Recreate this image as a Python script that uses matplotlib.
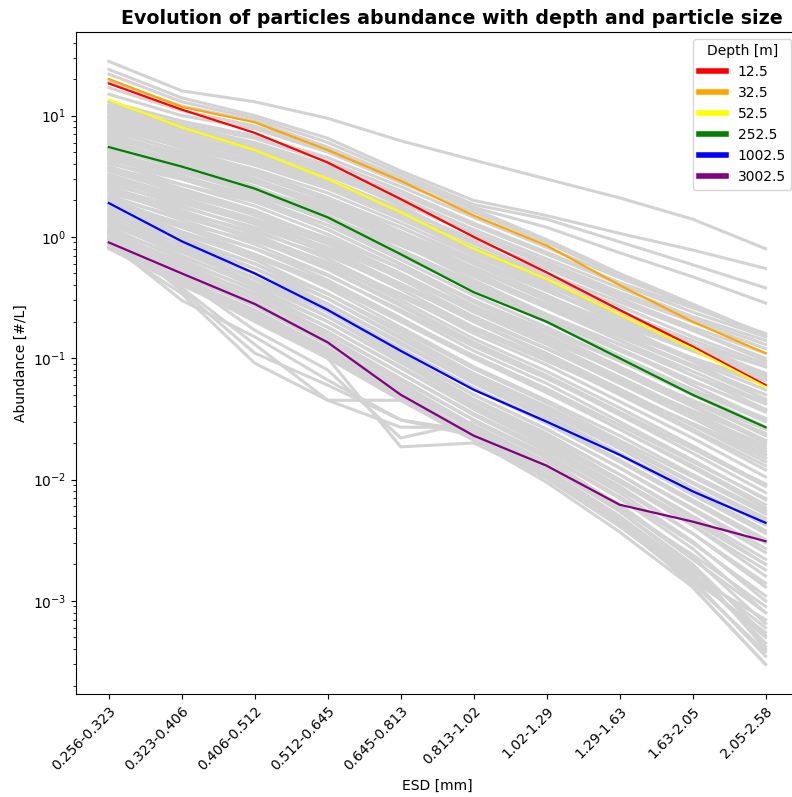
import matplotlib
matplotlib.use("Agg")
import matplotlib.pyplot as plt
from matplotlib.lines import Line2D

size_classes = ["0.256-0.323", "0.323-0.406", "0.406-0.512", "0.512-0.645", "0.645-0.813",
                "0.813-1.02", "1.02-1.29", "1.29-1.63", "1.63-2.05", "2.05-2.58"]

depths = ["12.5", "32.5", "52.5", "252.5", "1002.5", "3002.5"]
depth_colors = ["red", "orange", "yellow", "green", "blue", "purple"]

ab_12_5 = [18.4, 11.2, 7.2, 4.1, 2.05, 1.0, 0.51, 0.25, 0.125, 0.06]
ab_32_5 = [20.0, 11.8, 8.8, 5.2, 2.9, 1.5, 0.85, 0.4, 0.2, 0.11]
ab_52_5 = [13.5, 8.0, 5.2, 3.0, 1.6, 0.8, 0.45, 0.23, 0.12, 0.058]
ab_252_5 = [5.5, 3.8, 2.5, 1.45, 0.72, 0.35, 0.2, 0.1, 0.05, 0.027]
ab_1002_5 = [1.9, 0.92, 0.5, 0.25, 0.115, 0.055, 0.03, 0.016, 0.008, 0.0044]
ab_3002_5 = [0.9, 0.5, 0.28, 0.135, 0.05, 0.023, 0.013, 0.0062, 0.0045, 0.0031]
highlighted = [ab_12_5, ab_32_5, ab_52_5, ab_252_5, ab_1002_5, ab_3002_5]

grey_top = [
    [28, 16, 13, 9.5, 6.2, 4.3, 3.0, 2.1, 1.4, 0.8],
    [24, 14, 10, 6.5, 3.5, 2.0, 1.5, 1.07, 0.78, 0.55],
    [22, 13, 9.5, 6, 3.3, 1.85, 1.4, 0.91, 0.59, 0.38],
    [19, 12, 9, 5.5, 3.1, 1.75, 1.2, 0.74, 0.47, 0.285],
]

grey_upper = [
    [12, 8.5, 6.5, 4.2, 2.4, 1.3, 0.75, 0.42, 0.26, 0.16],
    [11, 7.5, 5.6, 3.7, 2.1, 1.15, 0.66, 0.38, 0.22, 0.14],
    [10.5, 7, 5, 3.2, 1.9, 1.05, 0.6, 0.33, 0.2, 0.12],
    [9.8, 6.8, 4.8, 3.0, 1.7, 0.95, 0.55, 0.31, 0.18, 0.11],
    [9.2, 6.2, 4.5, 2.9, 1.6, 0.88, 0.5, 0.29, 0.17, 0.1],
    [8.6, 5.9, 4.2, 2.7, 1.5, 0.82, 0.47, 0.27, 0.15, 0.09],
    [8.0, 5.5, 3.9, 2.5, 1.4, 0.76, 0.43, 0.24, 0.14, 0.085],
    [7.5, 5.1, 3.6, 2.3, 1.3, 0.7, 0.4, 0.22, 0.13, 0.075],
    [7.0, 4.8, 3.4, 2.1, 1.2, 0.64, 0.36, 0.2, 0.115, 0.068],
    [6.6, 4.5, 3.2, 2.0, 1.1, 0.6, 0.33, 0.18, 0.1, 0.06],
    [6.2, 4.2, 3.0, 1.85, 1.0, 0.55, 0.3, 0.17, 0.095, 0.055],
    [5.8, 4.0, 2.8, 1.7, 0.95, 0.5, 0.28, 0.155, 0.088, 0.05],
    [10, 6.5, 4.4, 2.7, 1.45, 0.72, 0.38, 0.19, 0.095, 0.045],
    [12.5, 8, 5.5, 3.4, 1.8, 0.9, 0.48, 0.25, 0.13, 0.07],
    [5.2, 3.8, 2.9, 1.9, 1.1, 0.62, 0.36, 0.21, 0.13, 0.085],
    [4.6, 3.4, 2.5, 1.65, 0.95, 0.55, 0.32, 0.19, 0.115, 0.075],
    [4.0, 3.0, 2.2, 1.45, 0.85, 0.48, 0.28, 0.16, 0.1, 0.065],
    [11.5, 7.8, 5.8, 3.6, 2.0, 1.05, 0.58, 0.31, 0.17, 0.095],
    [9.5, 6.4, 4.6, 2.85, 1.55, 0.8, 0.44, 0.24, 0.13, 0.072],
    [8.3, 5.7, 4.0, 2.55, 1.42, 0.74, 0.41, 0.22, 0.12, 0.066],
    [6.4, 4.6, 3.3, 2.1, 1.2, 0.66, 0.37, 0.21, 0.12, 0.072],
    [5.4, 3.9, 2.85, 1.8, 1.0, 0.56, 0.31, 0.17, 0.1, 0.06],
    [4.9, 3.5, 2.5, 1.6, 0.88, 0.48, 0.27, 0.15, 0.085, 0.05],
    [4.3, 3.1, 2.2, 1.4, 0.78, 0.42, 0.23, 0.13, 0.072, 0.042],
    [3.7, 2.7, 1.95, 1.25, 0.7, 0.38, 0.21, 0.115, 0.064, 0.037],
    [9.0, 6.0, 4.1, 2.6, 1.45, 0.78, 0.42, 0.23, 0.125, 0.07],
    [10.8, 7.4, 5.3, 3.4, 1.95, 1.08, 0.62, 0.35, 0.21, 0.13],
    [11.8, 8.2, 6.0, 3.9, 2.25, 1.25, 0.72, 0.41, 0.24, 0.15],
    [13, 9.0, 6.8, 4.5, 2.6, 1.45, 0.82, 0.46, 0.27, 0.155],
    [15, 10, 7.8, 5.0, 2.8, 1.6, 0.9, 0.48, 0.27, 0.15],
    [17, 11, 8.2, 5.3, 3.0, 1.7, 0.95, 0.5, 0.28, 0.155],
]

grey_middle = [
    [5.0, 3.4, 2.3, 1.35, 0.7, 0.36, 0.2, 0.105, 0.055, 0.03],
    [4.7, 3.2, 2.1, 1.25, 0.65, 0.33, 0.18, 0.095, 0.05, 0.026],
    [4.4, 3.0, 1.95, 1.15, 0.6, 0.3, 0.165, 0.085, 0.044, 0.023],
    [4.1, 2.7, 1.8, 1.05, 0.55, 0.27, 0.15, 0.077, 0.04, 0.02],
    [3.8, 2.5, 1.65, 0.95, 0.5, 0.25, 0.135, 0.07, 0.036, 0.018],
    [3.5, 2.3, 1.5, 0.88, 0.45, 0.22, 0.12, 0.062, 0.032, 0.016],
    [3.3, 2.1, 1.4, 0.8, 0.41, 0.2, 0.11, 0.056, 0.028, 0.014],
    [3.0, 1.95, 1.28, 0.73, 0.37, 0.18, 0.1, 0.05, 0.025, 0.012],
    [2.8, 1.8, 1.15, 0.66, 0.33, 0.16, 0.088, 0.044, 0.022, 0.0105],
    [2.6, 1.65, 1.05, 0.6, 0.3, 0.145, 0.078, 0.039, 0.019, 0.009],
    [2.4, 1.5, 0.95, 0.54, 0.27, 0.13, 0.07, 0.034, 0.0165, 0.0078],
    [2.2, 1.38, 0.87, 0.49, 0.24, 0.115, 0.062, 0.03, 0.0145, 0.0068],
    [2.05, 1.27, 0.8, 0.44, 0.215, 0.1, 0.054, 0.026, 0.0125, 0.0058],
    [3.2, 2.2, 1.55, 0.98, 0.55, 0.3, 0.17, 0.095, 0.055, 0.032],
    [2.7, 1.9, 1.3, 0.82, 0.46, 0.25, 0.14, 0.08, 0.045, 0.026],
    [2.3, 1.6, 1.1, 0.7, 0.39, 0.21, 0.12, 0.066, 0.037, 0.021],
    [1.9, 1.3, 0.92, 0.58, 0.32, 0.17, 0.095, 0.052, 0.029, 0.016],
    [6.0, 4.0, 2.6, 1.5, 0.78, 0.4, 0.22, 0.12, 0.065, 0.036],
    [7.2, 4.6, 3.0, 1.75, 0.92, 0.47, 0.26, 0.14, 0.078, 0.043],
    [8.5, 5.4, 3.5, 2.1, 1.1, 0.55, 0.3, 0.16, 0.085, 0.046],
    [7.8, 5.0, 3.3, 2.0, 1.05, 0.52, 0.27, 0.14, 0.072, 0.038],
    [6.8, 4.4, 2.9, 1.7, 0.88, 0.44, 0.23, 0.12, 0.06, 0.031],
    [5.5, 3.6, 2.4, 1.42, 0.75, 0.38, 0.2, 0.1, 0.052, 0.027],
    [3.6, 2.4, 1.6, 0.93, 0.48, 0.24, 0.13, 0.066, 0.034, 0.017],
    [3.1, 2.05, 1.35, 0.78, 0.4, 0.2, 0.105, 0.053, 0.026, 0.013],
    [2.9, 2.0, 1.4, 0.88, 0.48, 0.26, 0.145, 0.078, 0.043, 0.024],
    [2.5, 1.75, 1.2, 0.75, 0.41, 0.22, 0.12, 0.064, 0.035, 0.019],
    [2.1, 1.45, 1.0, 0.62, 0.34, 0.18, 0.1, 0.053, 0.029, 0.015],
    [4.5, 3.0, 2.0, 1.15, 0.59, 0.29, 0.155, 0.08, 0.041, 0.021],
    [2.5, 1.55, 0.98, 0.56, 0.28, 0.135, 0.072, 0.036, 0.018, 0.0088],
]

grey_lower = [
    [1.95, 1.1, 0.65, 0.34, 0.16, 0.075, 0.04, 0.02, 0.0095, 0.0048],
    [1.8, 1.0, 0.6, 0.31, 0.145, 0.068, 0.036, 0.018, 0.0085, 0.0042],
    [1.7, 0.93, 0.55, 0.28, 0.13, 0.062, 0.032, 0.016, 0.0075, 0.0036],
    [1.6, 0.86, 0.5, 0.26, 0.12, 0.056, 0.029, 0.014, 0.0065, 0.003],
    [1.5, 0.8, 0.46, 0.24, 0.11, 0.05, 0.026, 0.0125, 0.0056, 0.0025],
    [1.4, 0.75, 0.42, 0.22, 0.1, 0.046, 0.024, 0.011, 0.0048, 0.002],
    [1.3, 0.7, 0.39, 0.2, 0.092, 0.042, 0.021, 0.0098, 0.0042, 0.0016],
    [1.2, 0.65, 0.36, 0.18, 0.083, 0.038, 0.019, 0.0088, 0.0036, 0.0013],
    [1.12, 0.6, 0.33, 0.165, 0.075, 0.034, 0.017, 0.0078, 0.0031, 0.001],
    [1.05, 0.56, 0.31, 0.15, 0.068, 0.031, 0.0155, 0.007, 0.0027, 0.0008],
    [0.98, 0.52, 0.29, 0.14, 0.062, 0.028, 0.014, 0.0062, 0.0023, 0.00065],
    [0.92, 0.48, 0.27, 0.13, 0.057, 0.026, 0.0128, 0.0055, 0.002, 0.00052],
    [0.86, 0.45, 0.25, 0.12, 0.052, 0.024, 0.0118, 0.0048, 0.0017, 0.00045],
    [0.82, 0.42, 0.23, 0.11, 0.048, 0.022, 0.0105, 0.0042, 0.0014, 0.00038],
    [0.8, 0.4, 0.21, 0.1, 0.045, 0.021, 0.0095, 0.0037, 0.0013, 0.0003],
    [1.85, 1.2, 0.8, 0.48, 0.25, 0.125, 0.068, 0.035, 0.018, 0.0092],
    [1.75, 1.1, 0.72, 0.42, 0.21, 0.105, 0.056, 0.028, 0.014, 0.007],
    [1.65, 1.05, 0.68, 0.4, 0.2, 0.1, 0.052, 0.026, 0.013, 0.0062],
    [1.55, 0.95, 0.6, 0.34, 0.17, 0.082, 0.043, 0.021, 0.0105, 0.0052],
    [1.45, 0.88, 0.55, 0.31, 0.15, 0.072, 0.038, 0.019, 0.0093, 0.0045],
    [1.35, 0.82, 0.5, 0.28, 0.135, 0.064, 0.034, 0.0165, 0.008, 0.0038],
    [1.25, 0.75, 0.46, 0.25, 0.12, 0.057, 0.03, 0.0145, 0.0068, 0.0032],
    [1.15, 0.68, 0.41, 0.22, 0.105, 0.05, 0.026, 0.0125, 0.0058, 0.0027],
    [1.08, 0.62, 0.37, 0.2, 0.095, 0.045, 0.023, 0.011, 0.005, 0.0022],
    [1.0, 0.58, 0.34, 0.18, 0.085, 0.04, 0.02, 0.0095, 0.0042, 0.0018],
    [0.95, 0.54, 0.31, 0.16, 0.075, 0.035, 0.018, 0.0083, 0.0036, 0.0014],
    [0.9, 0.5, 0.28, 0.145, 0.066, 0.031, 0.016, 0.0072, 0.003, 0.0011],
    [0.84, 0.44, 0.24, 0.12, 0.055, 0.026, 0.013, 0.0058, 0.0024, 0.0009],
    [1.3, 0.8, 0.45, 0.22, 0.1, 0.045, 0.022, 0.01, 0.0045, 0.002],
    [2.0, 1.2, 0.72, 0.38, 0.18, 0.085, 0.045, 0.023, 0.011, 0.0055],
    [0.83, 0.43, 0.22, 0.105, 0.047, 0.022, 0.0102, 0.0041, 0.0015, 0.00055],
    [0.87, 0.46, 0.24, 0.115, 0.05, 0.023, 0.011, 0.0045, 0.0016, 0.0007],
    [0.93, 0.5, 0.27, 0.13, 0.058, 0.027, 0.013, 0.0055, 0.0019, 0.00042],
]

grey_noisy = [
    [0.85, 0.34, 0.091, 0.045, 0.045, 0.022, 0.011, 0.0045, 0.0016, 0.0005],
    [0.9, 0.3, 0.15, 0.066, 0.031, 0.023, 0.012, 0.005, 0.0018, 0.0006],
    [0.95, 0.38, 0.13, 0.045, 0.027, 0.027, 0.013, 0.0055, 0.002, 0.0004],
    [1.0, 0.42, 0.2, 0.1, 0.0186, 0.02, 0.0105, 0.0045, 0.0015, 0.00035],
    [0.88, 0.45, 0.17, 0.08, 0.022, 0.03, 0.015, 0.006, 0.0022, 0.0008],
    [1.1, 0.36, 0.11, 0.06, 0.031, 0.025, 0.012, 0.0048, 0.0013, 0.0003],
]

fig = plt.figure(figsize=(7.92, 7.97), dpi=100)
ax = fig.add_axes([0.096, 0.129, 0.912, 0.831])

x = list(range(len(size_classes)))
for group in (grey_top, grey_upper, grey_middle, grey_lower, grey_noisy):
    for prof in group:
        ax.plot(x, prof, color="lightgrey", lw=2.2, zorder=1)

for prof, col in zip(highlighted, depth_colors):
    ax.plot(x, prof, color=col, lw=1.6, zorder=3)

ax.set_yscale("log")
ax.set_ylim(1.7e-4, 49)
ax.set_xlim(-0.45, 9.45)
ax.set_xticks(x)
ax.set_xticklabels(size_classes, rotation=45, ha="right", rotation_mode="anchor", fontsize=10)
ax.set_xlabel("ESD [mm]", fontsize=10)
ax.set_ylabel("Abundance [#/L]", fontsize=10)
ax.set_title("Evolution of particles abundance with depth and particle size",
             fontsize=13.7, fontweight="bold", x=0.521)

handles = [Line2D([0], [0], color=c, lw=4) for c in depth_colors]
ax.legend(handles, depths, title="Depth [m]", loc="upper right", fontsize=10,
          title_fontsize=10)

fig.savefig("out.png", dpi=100)
